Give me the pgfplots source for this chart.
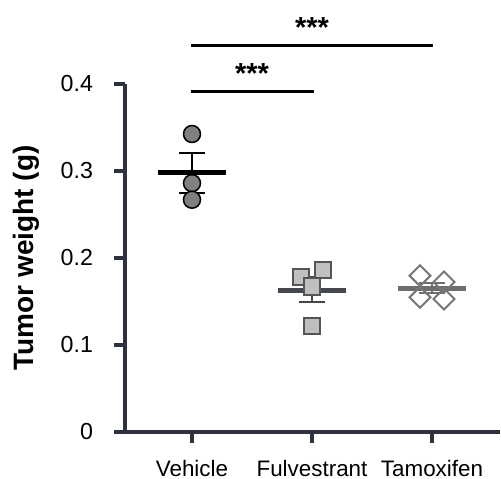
\documentclass[border=0pt]{standalone}
\usepackage{pgfplots}
\pgfplotsset{compat=1.18}
\usepackage{fontspec}
\setmainfont{Liberation Sans}
\definecolor{spine}{RGB}{45,50,62}
\definecolor{vfill}{RGB}{128,128,128}
\definecolor{ffill}{RGB}{192,192,192}
\definecolor{fedge}{RGB}{85,85,88}
\definecolor{fmean}{RGB}{68,71,76}
\definecolor{tedge}{RGB}{118,118,118}
\definecolor{tmean}{RGB}{110,110,110}
\begin{document}
\begin{tikzpicture}
\begin{axis}[
  scale only axis,
  width=187.5pt, height=174pt,
  xmin=0.44167, xmax=3.56667,
  ymin=0, ymax=0.4,
  clip=false,
  axis x line=bottom, axis y line=left,
  axis line style={-, line width=1.6pt, color=spine},
  tick align=outside,
  major tick length=5.5pt,
  tick style={line width=1.6pt, color=spine},
  xtick={1,2,3},
  xticklabels={Vehicle,Fulvestrant,Tamoxifen},
  ytick={0,0.1,0.2,0.3,0.4},
  yticklabels={0,0.1,0.2,0.3,0.4},
  /pgf/number format/assume math mode=true,
  xticklabel style={font=\fontsize{11.2pt}{13pt}\selectfont, text=black, anchor=base, inner sep=0pt, yshift=-17pt},
  yticklabel style={font=\fontsize{11.6pt}{13pt}\selectfont, text=black, anchor=east, xshift=-7pt},
  ylabel={Tumor weight (g)},
  ylabel style={font=\bfseries\fontsize{14pt}{16pt}\selectfont, at={(axis description cs:-0.2453,0.5)}, anchor=base, rotate=0},
]
% individual points
\addplot[only marks, mark=*, mark size=4.25pt, mark options={fill=vfill, draw=black, line width=0.75pt}]
  coordinates {(1,0.3425) (1,0.286) (1,0.267)};
\addplot[only marks, mark=square*, mark size=4.1pt, mark options={fill=ffill, draw=fedge, line width=1pt}]
  coordinates {(1.906,0.178) (2.092,0.186) (2.0,0.167) (2.0,0.122)};
\addplot[only marks, mark=square, mark size=3.7pt, mark options={rotate=45, draw=tedge, fill=white, line width=1pt}]
  coordinates {(2.9,0.1797) (3.1,0.1724) (2.9,0.1548) (3.1,0.1529)};
% mean lines
\addplot[line width=2.5pt, black] coordinates {(0.717,0.2977) (1.283,0.2977)};
\addplot[line width=2.5pt, fmean] coordinates {(1.717,0.1625) (2.283,0.1625)};
\addplot[line width=2.5pt, tmean] coordinates {(2.717,0.1652) (3.283,0.1652)};
% SEM error bars
\addplot[draw=none, mark=none, error bars/.cd, y dir=both, y explicit,
  error bar style={line width=1pt, black}, error mark options={line width=1pt, black, mark size=6.5pt, rotate=90}]
  coordinates {(1,0.298) +- (0,0.023)};
\addplot[draw=none, mark=none, error bars/.cd, y dir=both, y explicit,
  error bar style={line width=1pt, fmean}, error mark options={line width=1pt, fmean, mark size=6.5pt, rotate=90}]
  coordinates {(2,0.1636) +- (0,0.0142)};
\addplot[draw=none, mark=none, error bars/.cd, y dir=both, y explicit,
  error bar style={line width=1pt, tmean}, error mark options={line width=1pt, tmean, mark size=6.5pt, rotate=90}]
  coordinates {(3,0.1658) +- (0,0.0058)};
% significance brackets
\addplot[line width=1.5pt, black] coordinates {(0.989,0.4448) (3.008,0.4448)};
\addplot[line width=1.5pt, black] coordinates {(0.989,0.3908) (2.018,0.3908)};
\node[anchor=base, font=\bfseries\fontsize{14.5pt}{16pt}\selectfont, inner sep=0pt] at (axis cs:2.0,0.4529) {***};
\node[anchor=base, font=\bfseries\fontsize{14.5pt}{16pt}\selectfont, inner sep=0pt] at (axis cs:1.5,0.400) {***};
\coordinate (bbA) at (axis cs:-0.6,-0.05402);
\coordinate (bbB) at (axis cs:3.575,0.49655);
\end{axis}
\pgfresetboundingbox
\path (bbA) rectangle (bbB);
\end{tikzpicture}
\end{document}
